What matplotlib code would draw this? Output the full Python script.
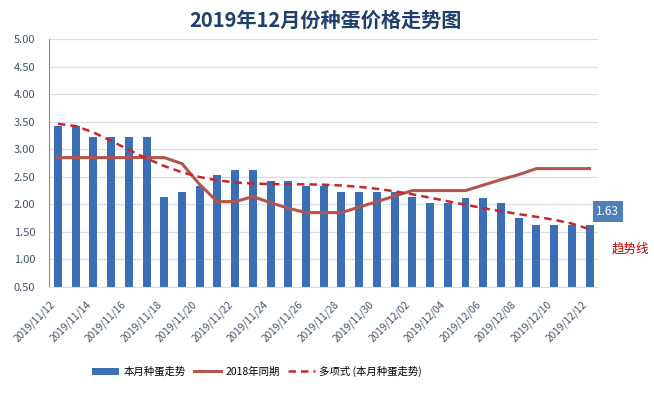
import numpy as np
import pandas as pd
import matplotlib
matplotlib.use("Agg")
import matplotlib.pyplot as plt
from matplotlib.transforms import ScaledTranslation

plt.rcParams["font.family"] = ["Noto Sans CJK SC", "DejaVu Sans"]

dates = pd.date_range("2019-11-12", "2019-12-12", freq="D")
labels = [d.strftime("%Y/%m/%d") for d in dates]

# 本月种蛋价格
price_2019 = [3.43, 3.43, 3.23, 3.23, 3.23, 3.23, 2.14, 2.23, 2.33, 2.54,
              2.63, 2.63, 2.43, 2.43, 2.34, 2.34, 2.23, 2.23, 2.23, 2.23,
              2.14, 2.03, 2.03, 2.12, 2.12, 2.03, 1.75, 1.63, 1.63, 1.63,
              1.63]
# 2018年同期
price_2018 = [2.85, 2.85, 2.85, 2.85, 2.85, 2.85, 2.85, 2.74, 2.36, 2.05,
              2.05, 2.14, 2.03, 1.93, 1.85, 1.85, 1.85, 1.95, 2.05, 2.15,
              2.25, 2.25, 2.25, 2.25, 2.35, 2.45, 2.54, 2.65, 2.65, 2.65,
              2.65]

x = np.arange(len(dates))

# 多项式趋势线 (Excel-style polynomial trendline of the bars)
coef = np.polyfit(x + 1, price_2019, 6)
trend = np.polyval(coef, x + 1)

fig = plt.figure(figsize=(6.54, 3.93), dpi=100)
ax = fig.add_axes([0.075, 0.27, 0.84, 0.63])

bars = ax.bar(x, price_2019, width=0.45, color="#3A6FB5", label="本月种蛋走势", zorder=2)
l1, = ax.plot(x, price_2018, color="#B5534F", lw=2.2, label="2018年同期", zorder=3)
l2, = ax.plot(x, trend, color="#C62828", lw=1.8, ls=(0, (3, 2)),
              label="多项式 (本月种蛋走势)", zorder=4)

ax.set_ylim(0.5, 5.0)
ax.set_xlim(-0.5, 30.5)
yt = np.arange(0.5, 5.01, 0.5)
ax.set_yticks(yt)
ax.set_yticklabels([f"{v:.2f}" for v in yt])
ax.yaxis.grid(True, color="#D9DDE8", lw=0.9, zorder=0)
ax.set_axisbelow(True)

ax.set_xticks(x[::2])
ax.set_xticklabels(labels[::2], rotation=45, ha="right", rotation_mode="anchor")
ax.tick_params(axis="x", length=0, pad=9, labelsize=7.3, colors="#44546A")
ax.tick_params(axis="y", length=0, pad=10, labelsize=8, colors="#44546A")
shift = ScaledTranslation(-8 / 100, 0, fig.dpi_scale_trans)
for t in ax.get_xticklabels():
    t.set_transform(t.get_transform() + shift)

for s in ["top", "right"]:
    ax.spines[s].set_visible(False)
ax.spines["left"].set_color("#8C8C8C")
ax.spines["bottom"].set_color("#D9DDE8")

fig.suptitle("2019年12月份种蛋价格走势图", x=0.497, y=0.975, fontsize=14.5,
             fontweight="bold", color="#1F3F6E")

ax.annotate(f"{price_2019[-1]:.2f}", xy=(x[-1], price_2019[-1]), xytext=(13, 9.5),
            textcoords="offset points", ha="center", va="center", fontsize=8.5,
            color="white", bbox=dict(boxstyle="square,pad=0.3", fc="#4F7FB8", ec="none"))
fig.text(0.935, 0.367, "趋势线", color="#C00000", fontsize=9, ha="left", va="center")

fig.legend(handles=[bars, l1, l2], loc="center", bbox_to_anchor=(0.393, 0.055), ncol=3,
           frameon=False, fontsize=7.5, handlelength=2.6, columnspacing=0.8,
           handletextpad=0.4)

fig.savefig("out.png", dpi=100)
